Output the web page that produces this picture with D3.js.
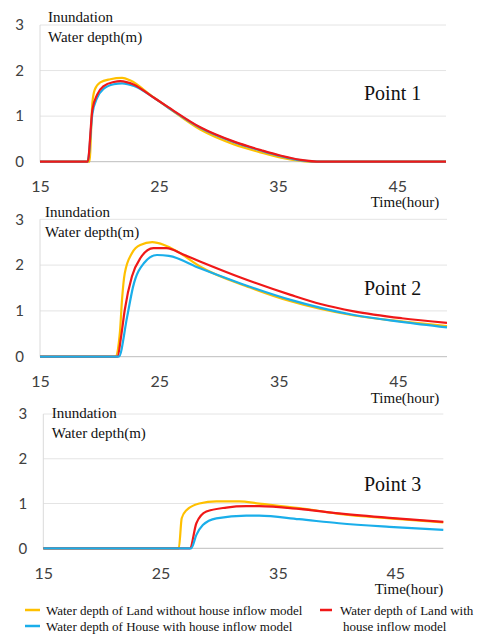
<!DOCTYPE html>
<html>
<head>
<meta charset="utf-8">
<script src="https://cdn.jsdelivr.net/npm/d3@7"></script>
<style>
  body { margin: 0; background: #fff; }
  svg { display: block; }
  .tick text { font-family: Lato, "Open Sans", sans-serif; fill: #404040; }
  .serif { font-family: "Liberation Serif", "Times New Roman", serif; fill: #111; }
</style>
</head>
<body>
<svg id="chart" width="487" height="634"></svg>
<script>
// hours vs inundation depth (m)
const xTicks = [15, 25, 35, 45];
const yTicks = [0, 1, 2, 3];
const pointNames = ["Point 1", "Point 2", "Point 3"];

const p1Land = [[15,0],[19.15,0],[19.4,1.29],[19.6,1.58],[20.06,1.74],[20.9,1.81],[21.9,1.84],[22.6,1.78],[24.3,1.46],[25.7,1.2],[28.5,0.7],[31.3,0.38],[33.6,0.2],[35.25,0.09],[36.9,0.02],[38,0],[49.1,0]];
const p1LandHouse = [[15,0],[19.0,0],[19.4,1.14],[19.8,1.47],[20.35,1.66],[21.2,1.75],[21.75,1.77],[22.9,1.69],[24.3,1.45],[25.7,1.21],[28.5,0.75],[31.3,0.44],[33.6,0.25],[35.25,0.13],[36.9,0.04],[38.6,0],[49.1,0]];
const p1House = [[15,0],[19.0,0],[19.4,1.05],[19.8,1.4],[20.35,1.6],[21.2,1.7],[21.9,1.72],[22.9,1.66],[24.3,1.45],[25.7,1.2],[28.5,0.74],[31.3,0.43],[33.6,0.24],[35.25,0.12],[36.9,0.03],[38.6,0],[49.1,0]];

const p2Land = [[15,0],[21.3,0],[21.7,0.55],[21.87,1.24],[22.1,1.82],[22.7,2.26],[23.4,2.44],[24.4,2.5],[25.4,2.44],[26.5,2.3],[28.4,1.97],[32.6,1.51],[36.0,1.21],[41.3,0.9],[45.3,0.77],[49.1,0.67]];
const p2LandHouse = [[15,0],[21.5,0],[21.8,0.45],[22.1,1.02],[22.7,1.75],[23.4,2.15],[24.5,2.37],[25.6,2.37],[27.0,2.23],[28.4,2.08],[31.8,1.73],[36.0,1.35],[38.5,1.15],[41.3,0.99],[45.3,0.84],[49.1,0.74]];
const p2House = [[15,0],[21.6,0],[22.3,0.87],[22.8,1.53],[23.7,2.04],[24.8,2.22],[25.8,2.2],[28.4,1.93],[31.8,1.6],[36.0,1.24],[41.3,0.91],[45.3,0.76],[49.1,0.64]];

const p3Land = [[15,0],[26.55,0],[26.8,0.67],[27.2,0.85],[28.3,1.0],[29.75,1.05],[31.7,1.05],[33.4,1.0],[36.8,0.9],[40.2,0.77],[44.5,0.67],[49.1,0.58]];
const p3LandHouse = [[15,0],[27.5,0],[28.05,0.56],[28.9,0.82],[30.6,0.91],[32.3,0.94],[33.4,0.94],[36.8,0.88],[40.2,0.78],[44.5,0.68],[49.1,0.59]];
const p3House = [[15,0],[27.6,0],[28.05,0.3],[28.6,0.52],[29.75,0.67],[32.3,0.73],[33.4,0.73],[36.8,0.65],[40.2,0.56],[44.5,0.48],[49.1,0.41]];

const legendLabels = [
  "Water depth of Land without house inflow model",
  "Water depth of House with house inflow model",
  "Water depth of Land with house inflow model"
];

const colors = { land: "#FFC000", house: "#1AAEEA", landHouse: "#F01818" };

// panel boxes (left, right, y of 3, y of 0) and label spots
const panels = [
  { left: 40, right: 446, top: 25, bottom: 161.7, lab: [48, 17], pt: [364, 93], time: [405, 202],
    series: [["land", p1Land], ["house", p1House], ["landHouse", p1LandHouse]] },
  { left: 40, right: 447, top: 219.3, bottom: 356.7, lab: [45, 212], pt: [364, 288], time: [405, 398],
    series: [["land", p2Land], ["landHouse", p2LandHouse], ["house", p2House]] },
  { left: 43.3, right: 443.3, top: 414, bottom: 548.3, lab: [51.7, 413], pt: [364, 484], time: [409, 589],
    series: [["land", p3Land], ["landHouse", p3LandHouse], ["house", p3House]] }
];

const svg = d3.select("#chart");

panels.forEach((p, i) => {
  const x = d3.scaleLinear().domain([15, 49.1]).range([p.left, p.right]);
  const y = d3.scaleLinear().domain([0, 3]).range([p.bottom, p.top]);
  const g = svg.append("g");

  g.selectAll("line.grid")
    .data([1, 2, 3])
    .join("line")
    .attr("x1", p.left).attr("x2", p.right)
    .attr("y1", d => y(d)).attr("y2", d => y(d))
    .attr("stroke", "#e4e4e4").attr("stroke-width", 1);

  g.append("line")
    .attr("x1", p.left).attr("x2", p.left)
    .attr("y1", y(3)).attr("y2", y(0))
    .attr("stroke", "#dadada");

  g.append("line")
    .attr("x1", p.left).attr("x2", p.right)
    .attr("y1", y(0)).attr("y2", y(0))
    .attr("stroke", "#bdbdbd");

  g.append("g")
    .attr("transform", `translate(${p.left},0)`)
    .call(d3.axisLeft(y).tickValues(yTicks).tickSize(0).tickPadding(16).tickFormat(d3.format("d")))
    .call(a => a.select(".domain").remove())
    .selectAll("text").style("font-size", "15px");

  g.append("g")
    .attr("transform", `translate(0,${p.bottom})`)
    .call(d3.axisBottom(x).tickValues(xTicks).tickSize(0).tickPadding(19).tickFormat(d3.format("d")))
    .call(a => a.select(".domain").remove())
    .selectAll("text").style("font-size", "16px");

  const line = d3.line()
    .x(d => x(d[0]))
    .y(d => y(d[1]))
    .curve(d3.curveMonotoneX);

  p.series.forEach(([key, data]) => {
    g.append("path")
      .datum(data)
      .attr("d", line)
      .attr("fill", "none")
      .attr("stroke", colors[key])
      .attr("stroke-width", 2.2);
  });

  g.append("text").attr("class", "serif")
    .attr("x", p.lab[0]).attr("y", p.lab[1]).attr("dy", "0.35em")
    .style("font-size", "15px").text("Inundation");
  g.append("text").attr("class", "serif")
    .attr("x", p.lab[0]).attr("y", p.lab[1] + 20).attr("dy", "0.35em")
    .style("font-size", "15px").text("Water depth(m)");

  g.append("text").attr("class", "serif")
    .attr("x", p.pt[0]).attr("y", p.pt[1]).attr("dy", "0.35em")
    .style("font-size", "20px").text(pointNames[i]);

  g.append("text").attr("class", "serif")
    .attr("x", p.time[0]).attr("y", p.time[1]).attr("dy", "0.35em")
    .attr("text-anchor", "middle")
    .style("font-size", "15px").text("Time(hour)");
});

// legend
const leg = svg.append("g").style("font-size", "13px");
const legItems = [
  { key: "land", x: 25, y: 610, text: [legendLabels[0]], tx: 46 },
  { key: "house", x: 25, y: 626, text: [legendLabels[1]], tx: 46 },
  { key: "landHouse", x: 320, y: 610, text: ["Water depth of Land with", "house inflow model"], tx: 340 }
];
legItems.forEach(it => {
  leg.append("line")
    .attr("x1", it.x).attr("x2", it.x + (it.key === "landHouse" ? 12 : 15))
    .attr("y1", it.y).attr("y2", it.y)
    .attr("stroke", colors[it.key]).attr("stroke-width", 2.5);
  it.text.forEach((t, j) => {
    leg.append("text").attr("class", "serif")
      .attr("x", it.tx + j * 3).attr("y", it.y + j * 16).attr("dy", "0.35em")
      .text(t);
  });
});
</script>
</body>
</html>
